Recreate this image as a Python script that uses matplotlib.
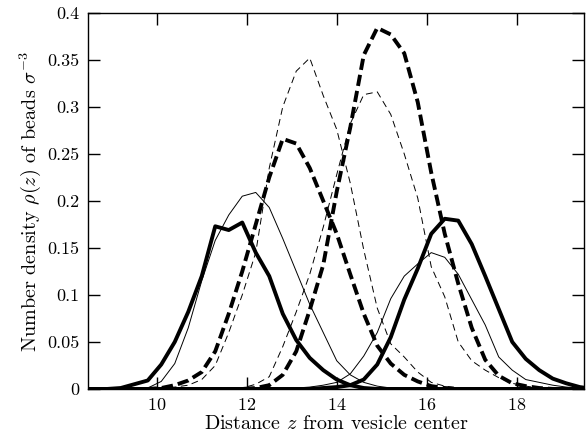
import matplotlib
matplotlib.use("Agg")
import matplotlib.pyplot as plt
from matplotlib.ticker import FuncFormatter

# DATA (distance z from vesicle center, histogram bins)
z = [8.3, 8.6, 8.9, 9.2, 9.5, 9.8, 10.1, 10.4, 10.7, 11.0,
     11.3, 11.6, 11.9, 12.2, 12.5, 12.8, 13.1, 13.4, 13.7, 14.0,
     14.3, 14.6, 14.9, 15.2, 15.5, 15.8, 16.1, 16.4, 16.7, 17.0,
     17.3, 17.6, 17.9, 18.2, 18.5, 18.8, 19.1, 19.4, 19.7]

# inner leaflet
inner_thick_solid = [0, 0, 0, 0.001, 0.005, 0.009, 0.026, 0.050, 0.082, 0.120,
                     0.173, 0.169, 0.177, 0.145, 0.120, 0.080, 0.052, 0.033, 0.020, 0.010,
                     0.004, 0.001, 0, 0, 0, 0, 0, 0, 0, 0,
                     0, 0, 0, 0, 0, 0, 0, 0, 0]
inner_thin_solid = [0, 0, 0, 0, 0, 0.001, 0.008, 0.027, 0.065, 0.115,
                    0.158, 0.185, 0.205, 0.209, 0.193, 0.160, 0.125, 0.090, 0.060, 0.030,
                    0.015, 0.007, 0.003, 0.001, 0, 0, 0, 0, 0, 0,
                    0, 0, 0, 0, 0, 0, 0, 0, 0]
inner_thick_dash = [0, 0, 0, 0, 0, 0, 0.001, 0.004, 0.009, 0.018,
                    0.040, 0.080, 0.125, 0.175, 0.225, 0.266, 0.261, 0.235, 0.200, 0.165,
                    0.122, 0.080, 0.046, 0.027, 0.015, 0.008, 0.003, 0.001, 0, 0,
                    0, 0, 0, 0, 0, 0, 0, 0, 0]
inner_thin_dash = [0, 0, 0, 0, 0, 0, 0.001, 0.002, 0.004, 0.010,
                   0.025, 0.060, 0.100, 0.145, 0.235, 0.300, 0.338, 0.352, 0.312, 0.276,
                   0.219, 0.148, 0.086, 0.048, 0.034, 0.018, 0.007, 0.003, 0.001, 0,
                   0, 0, 0, 0, 0, 0, 0, 0, 0]

# outer leaflet
outer_thick_dash = [0, 0, 0, 0, 0, 0, 0, 0, 0, 0,
                    0, 0, 0, 0.001, 0.004, 0.015, 0.040, 0.084, 0.132, 0.210,
                    0.278, 0.355, 0.384, 0.377, 0.357, 0.305, 0.230, 0.165, 0.112, 0.065,
                    0.031, 0.014, 0.006, 0.003, 0.001, 0, 0, 0, 0]
outer_thin_dash = [0, 0, 0, 0, 0, 0, 0, 0, 0, 0,
                   0, 0, 0.001, 0.005, 0.013, 0.045, 0.082, 0.122, 0.172, 0.228,
                   0.282, 0.313, 0.316, 0.292, 0.250, 0.203, 0.130, 0.098, 0.050, 0.030,
                   0.020, 0.012, 0.006, 0.003, 0.001, 0, 0, 0, 0]
outer_thin_solid = [0, 0, 0, 0, 0, 0, 0, 0, 0, 0,
                    0, 0, 0, 0, 0, 0, 0.001, 0.002, 0.004, 0.007,
                    0.016, 0.035, 0.060, 0.096, 0.120, 0.133, 0.145, 0.140, 0.122, 0.095,
                    0.068, 0.034, 0.020, 0.010, 0.007, 0.004, 0.002, 0.001, 0]
outer_thick_solid = [0, 0, 0, 0, 0, 0, 0, 0, 0, 0,
                     0, 0, 0, 0, 0, 0, 0, 0, 0.001, 0.002,
                     0.004, 0.010, 0.026, 0.055, 0.095, 0.128, 0.165, 0.181, 0.179, 0.154,
                     0.120, 0.085, 0.050, 0.032, 0.020, 0.011, 0.006, 0.002, 0]

x_ticks = [10, 12, 14, 16, 18]
y_ticks = [0, 0.05, 0.1, 0.15, 0.2, 0.25, 0.3, 0.35, 0.4]

# STYLE
plt.rcParams["font.family"] = "serif"
plt.rcParams["font.serif"] = ["cmr10"]
plt.rcParams["mathtext.fontset"] = "cm"
plt.rcParams["axes.formatter.use_mathtext"] = True

fig = plt.figure(figsize=(5.86, 4.43), dpi=100)
ax = fig.add_axes([0.150, 0.122, 0.847, 0.849])

thick = 2.8
thin = 0.7
thick_dash = (0, (2.9, 1.3))
thin_dash = (0, (7.0, 4.5))

ax.plot(z, inner_thick_solid, color="black", lw=thick)
ax.plot(z, inner_thin_solid, color="black", lw=thin)
ax.plot(z, inner_thick_dash, color="black", lw=thick, linestyle=thick_dash,
        dash_capstyle="butt")
ax.plot(z, inner_thin_dash, color="black", lw=thin, linestyle=thin_dash)

ax.plot(z, outer_thick_dash, color="black", lw=thick, linestyle=thick_dash,
        dash_capstyle="butt")
ax.plot(z, outer_thin_dash, color="black", lw=thin, linestyle=thin_dash)
ax.plot(z, outer_thin_solid, color="black", lw=thin)
ax.plot(z, outer_thick_solid, color="black", lw=thick)

# AXES
ax.set_xlim(8.47, 19.5)
ax.set_ylim(0, 0.4)
ax.set_xticks(x_ticks)
ax.set_yticks(y_ticks)
ax.yaxis.set_major_formatter(FuncFormatter(lambda v, p: "%g" % v))

ax.tick_params(direction="in", top=True, right=True, length=8.5, width=1.0,
               labelsize=13, pad=6)
for spine in ax.spines.values():
    spine.set_linewidth(1.0)

ax.set_xlabel(r"Distance $z$ from vesicle center", fontsize=14.5, labelpad=1)
ax.set_ylabel(r"Number density $\rho(z)$ of beads $\sigma^{-3}$", fontsize=14.5,
              labelpad=3)

fig.savefig("out.png", dpi=100)
